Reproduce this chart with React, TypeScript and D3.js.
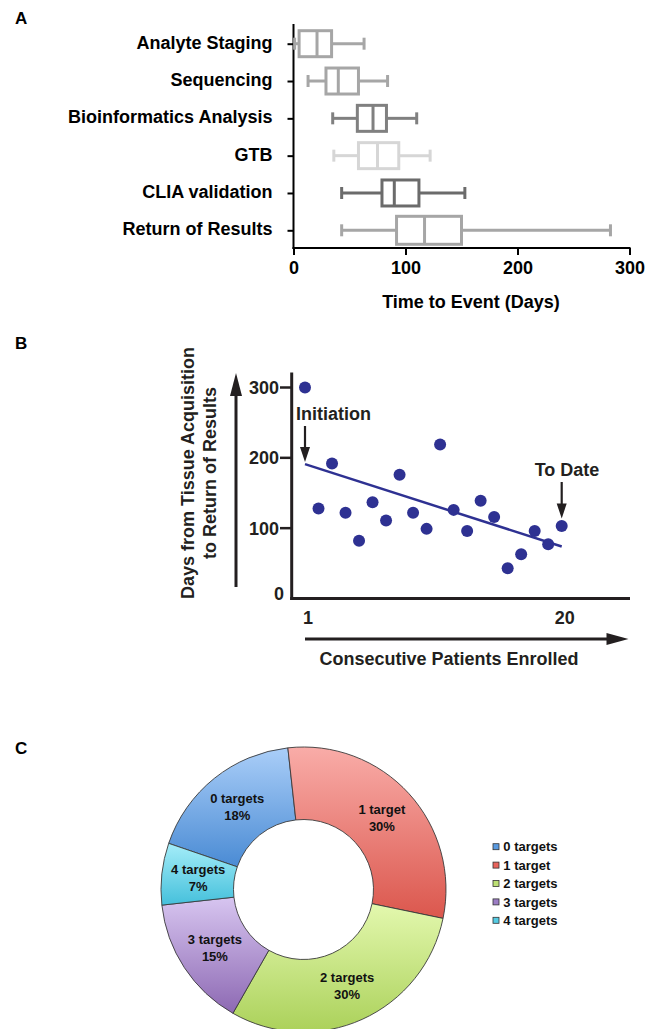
import React, { useEffect, useRef } from "react";
import * as d3 from "d3";

// Panel A: time to event, box plots (days)
const stages = [
  "Analyte Staging",
  "Sequencing",
  "Bioinformatics Analysis",
  "GTB",
  "CLIA validation",
  "Return of Results",
];
const stageMin = [1, 13, 35, 36, 43, 43];
const stageQ1 = [5, 29, 57, 58, 79, 92];
const stageMedian = [21, 40, 71, 75, 90, 117];
const stageQ3 = [34, 58, 83, 94, 112, 150];
const stageMax = [63, 84, 110, 122, 153, 283];
const xTicksA = [0, 100, 200, 300];

// Panel B: days from tissue acquisition to return of results
const patients = [1, 2, 3, 4, 5, 6, 7, 8, 9, 10, 11, 12, 13, 14, 15, 16, 17, 18, 19, 20];
const daysToResult = [300, 128, 192, 122, 82, 137, 111, 176, 122, 99, 219, 126, 96, 139, 116, 43, 63, 96, 77, 103];
const trendPatients = [1, 20];
const trendDays = [191, 74];
const yTicksB = [0, 100, 200, 300];
const xTicksB = [1, 20];

// Panel C: number of targets
const targetLabels = ["0 targets", "1 target", "2 targets", "3 targets", "4 targets"];
const targetShares = [18, 30, 30, 15, 7];

const FONT = "'Liberation Sans', Arial, Helvetica, sans-serif";
const boxColors = ["#a6a6a6", "#a6a6a6", "#808080", "#d6d6d6", "#6b6b6b", "#a6a6a6"];
const sliceTop = ["#aacef8", "#f9aca8", "#e3f8ae", "#d7c5f0", "#a5edf9"];
const sliceBottom = ["#4a8bd4", "#db574d", "#abd15a", "#8d69b3", "#45c0db"];
const legendColors = ["#5a9ae0", "#e8635b", "#bde074", "#9c7dc5", "#55cbe3"];
const blue = "#2e3192";

export default function App() {
  const ref = useRef<SVGSVGElement>(null);

  useEffect(() => {
    const svg = d3.select(ref.current);
    svg.selectAll("*").remove();
    svg.attr("font-family", FONT).attr("font-weight", "bold");
    const defs = svg.append("defs");

    const letters: [string, number][] = [["A", 24], ["B", 349], ["C", 754]];
    letters.forEach(([t, y]) => {
      svg.append("text").attr("x", 15).attr("y", y).attr("font-size", 17).text(t);
    });

    // ---------- A ----------
    const gA = svg.append("g");
    const xA = d3.scaleLinear().domain([0, 300]).range([293.5, 629.5]);
    const yA = d3.scalePoint<string>().domain(stages).range([43.7, 230.3]);

    gA.append("g")
      .attr("transform", "translate(0,248)")
      .call(d3.axisBottom(xA).tickValues(xTicksA).tickSize(7).tickPadding(6).tickSizeOuter(0))
      .call((g) => {
        g.select(".domain").remove();
        g.attr("font-family", FONT).attr("font-size", 18);
        g.selectAll("line").attr("stroke", "#000").attr("stroke-width", 2);
        g.selectAll("text").attr("fill", "#000");
      });

    gA.append("g")
      .attr("transform", "translate(293.5,0)")
      .call(d3.axisLeft(yA).tickSize(6).tickPadding(15).tickSizeOuter(0))
      .call((g) => {
        g.select(".domain").remove();
        g.attr("font-family", FONT).attr("font-size", 18);
        g.selectAll("line").attr("stroke", "#000").attr("stroke-width", 2);
        g.selectAll("text").attr("fill", "#000").attr("dy", "0.25em");
      });

    gA.append("line").attr("x1", 293.5).attr("x2", 293.5).attr("y1", 24).attr("y2", 249)
      .attr("stroke", "#000").attr("stroke-width", 2);
    gA.append("line").attr("x1", 292.5).attr("x2", 630.5).attr("y1", 248).attr("y2", 248)
      .attr("stroke", "#000").attr("stroke-width", 2);

    stages.forEach((s, i) => {
      const cy = yA(s) as number;
      const g = gA.append("g").attr("stroke", boxColors[i]).attr("stroke-width", 3).attr("fill", "none");
      const bh = i === 5 ? 28 : 26;
      g.append("line").attr("x1", xA(stageMin[i])).attr("x2", xA(stageQ1[i])).attr("y1", cy).attr("y2", cy);
      g.append("line").attr("x1", xA(stageQ3[i])).attr("x2", xA(stageMax[i])).attr("y1", cy).attr("y2", cy);
      [stageMin[i], stageMax[i]].forEach((v) => {
        g.append("line").attr("x1", xA(v)).attr("x2", xA(v)).attr("y1", cy - 6).attr("y2", cy + 6);
      });
      g.append("rect")
        .attr("x", xA(stageQ1[i])).attr("y", cy - bh / 2)
        .attr("width", xA(stageQ3[i]) - xA(stageQ1[i])).attr("height", bh)
        .attr("fill", "#fff");
      g.append("line").attr("x1", xA(stageMedian[i])).attr("x2", xA(stageMedian[i]))
        .attr("y1", cy - bh / 2).attr("y2", cy + bh / 2);
    });

    gA.append("text").attr("x", 471).attr("y", 308).attr("text-anchor", "middle")
      .attr("font-size", 18).text("Time to Event (Days)");

    // ---------- B ----------
    const gB = svg.append("g");
    const xB = d3.scaleLinear().domain([1, 20]).range([305, 561.7]);
    const yB = d3.scaleLinear().domain([0, 300]).range([598.5, 387.5]);

    const arrowHead = (tipX: number, tipY: number, dir: "up" | "down" | "right", len: number, half: number) => {
      let pts: [number, number][];
      if (dir === "up") pts = [[tipX, tipY], [tipX - half, tipY + len], [tipX + half, tipY + len]];
      else if (dir === "down") pts = [[tipX, tipY], [tipX - half, tipY - len], [tipX + half, tipY - len]];
      else pts = [[tipX, tipY], [tipX - len, tipY - half], [tipX - len, tipY + half]];
      gB.append("path").attr("d", d3.line()(pts) + "Z").attr("fill", "#231f20");
    };

    // big arrows
    gB.append("line").attr("x1", 236).attr("x2", 236).attr("y1", 587).attr("y2", 390)
      .attr("stroke", "#231f20").attr("stroke-width", 3);
    arrowHead(236, 373, "up", 23, 6);
    gB.append("line").attr("x1", 305).attr("x2", 610).attr("y1", 639).attr("y2", 639)
      .attr("stroke", "#231f20").attr("stroke-width", 3);
    arrowHead(628.5, 639, "right", 22, 6);

    // axes
    gB.append("line").attr("x1", 291.7).attr("x2", 291.7).attr("y1", 372.5).attr("y2", 600)
      .attr("stroke", "#231f20").attr("stroke-width", 3);
    gB.append("line").attr("x1", 290.2).attr("x2", 630).attr("y1", 598.5).attr("y2", 598.5)
      .attr("stroke", "#231f20").attr("stroke-width", 3);

    yTicksB.forEach((t) => {
      if (t > 0) {
        gB.append("line").attr("x1", 280).attr("x2", 291.7).attr("y1", yB(t)).attr("y2", yB(t))
          .attr("stroke", "#231f20").attr("stroke-width", 2.5);
      }
      gB.append("text")
        .attr("x", t > 0 ? 279 : 284)
        .attr("y", t > 0 ? yB(t) + 6.5 : yB(t) + 1)
        .attr("text-anchor", "end").attr("font-size", 18).attr("fill", "#231f20")
        .text(t);
    });
    xTicksB.forEach((t) => {
      gB.append("text").attr("x", xB(t) + 3).attr("y", 624).attr("text-anchor", "middle")
        .attr("font-size", 18).attr("fill", "#231f20").text(t);
    });

    // trend line
    gB.append("path")
      .datum(trendPatients.map((p, i) => [p, trendDays[i]] as [number, number]))
      .attr("d", d3.line<[number, number]>().x((d) => xB(d[0])).y((d) => yB(d[1])))
      .attr("stroke", blue).attr("stroke-width", 2.5).attr("fill", "none");

    gB.selectAll("circle.pt")
      .data(patients)
      .enter()
      .append("circle")
      .attr("class", "pt")
      .attr("cx", (d) => xB(d))
      .attr("cy", (d, i) => yB(daysToResult[i]))
      .attr("r", 6)
      .attr("fill", blue);

    // annotations
    gB.append("text").attr("x", 296).attr("y", 419.5).attr("font-size", 18).attr("fill", "#231f20").text("Initiation");
    gB.append("line").attr("x1", 305).attr("x2", 305).attr("y1", 426).attr("y2", 448)
      .attr("stroke", "#231f20").attr("stroke-width", 2.2);
    arrowHead(305, 462, "down", 15, 5);

    gB.append("text").attr("x", 567).attr("y", 475.5).attr("text-anchor", "middle").attr("font-size", 18)
      .attr("fill", "#231f20").text("To Date");
    gB.append("line").attr("x1", 561.7).attr("x2", 561.7).attr("y1", 482).attr("y2", 504)
      .attr("stroke", "#231f20").attr("stroke-width", 2.2);
    arrowHead(561.7, 518.5, "down", 15, 5);

    // axis titles
    const yt = gB.append("text").attr("transform", "translate(194,473) rotate(-90)")
      .attr("text-anchor", "middle").attr("font-size", 18).attr("fill", "#231f20");
    yt.append("tspan").attr("x", 0).attr("y", 0).text("Days from Tissue Acquisition");
    yt.append("tspan").attr("x", 0).attr("y", 21.5).text("to Return of Results");

    gB.append("text").attr("x", 449).attr("y", 664.5).attr("text-anchor", "middle").attr("font-size", 18)
      .attr("fill", "#231f20").text("Consecutive Patients Enrolled");

    // ---------- C ----------
    const gC = svg.append("g").attr("transform", "translate(303.5,889.5)");
    const start = (-71.1 * Math.PI) / 180;
    const pie = d3.pie<number>().sort(null).value((d) => d).startAngle(start).endAngle(start + 2 * Math.PI);
    const arcs = pie(targetShares);
    const arc = d3.arc<d3.PieArcDatum<number>>().innerRadius(70).outerRadius(142.5);
    const labelArc = d3.arc<d3.PieArcDatum<number>>().innerRadius(71).outerRadius(141);

    targetLabels.forEach((_, i) => {
      const gr = defs.append("linearGradient").attr("id", `slice${i}`)
        .attr("x1", 0).attr("y1", 0).attr("x2", 0).attr("y2", 1);
      gr.append("stop").attr("offset", "0%").attr("stop-color", sliceTop[i]);
      gr.append("stop").attr("offset", "100%").attr("stop-color", sliceBottom[i]);
    });

    gC.selectAll("path.slice")
      .data(arcs)
      .enter()
      .append("path")
      .attr("class", "slice")
      .attr("d", arc)
      .attr("fill", (d, i) => `url(#slice${i})`)
      .attr("stroke", "#3a3a3a")
      .attr("stroke-width", 0.9);

    arcs.forEach((d, i) => {
      const [cx, cy] = labelArc.centroid(d);
      const t = gC.append("text").attr("text-anchor", "middle").attr("font-size", 13).attr("fill", "#111");
      t.append("tspan").attr("x", cx).attr("y", cy - 3.7).text(targetLabels[i]);
      t.append("tspan").attr("x", cx).attr("y", cy + 12.9).text(targetShares[i] + "%");
    });

    const legend = svg.append("g").attr("transform", "translate(493,846.7)");
    targetLabels.forEach((l, i) => {
      const row = legend.append("g").attr("transform", `translate(0,${i * 18.4})`);
      row.append("rect").attr("x", 0).attr("y", -3).attr("width", 6).attr("height", 6)
        .attr("fill", legendColors[i]).attr("stroke", "#333").attr("stroke-width", 0.8);
      row.append("text").attr("x", 10.3).attr("y", 4.6).attr("font-size", 13).attr("fill", "#111").text(l);
    });
  }, []);

  return (
    <div style={{ position: "absolute", left: 0, top: 0 }}>
      <svg ref={ref} width={645} height={1029} style={{ display: "block", background: "#fff" }} />
    </div>
  );
}
